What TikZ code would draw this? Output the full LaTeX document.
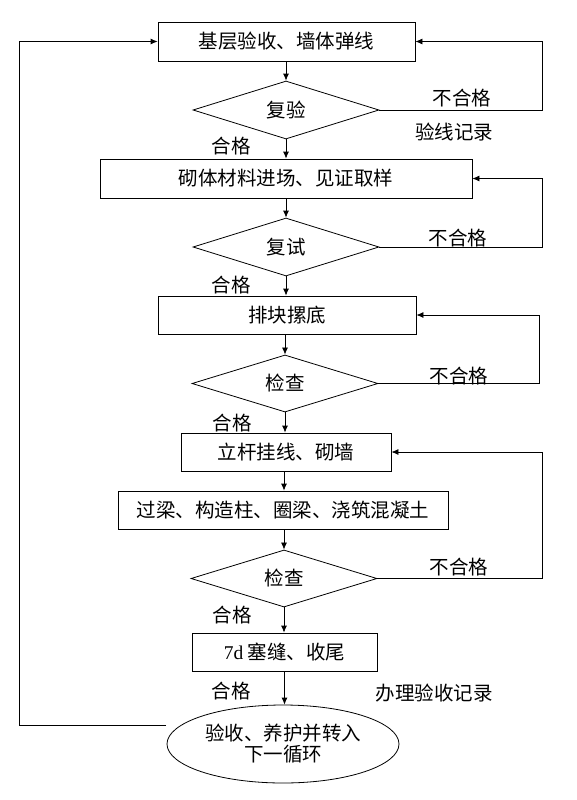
\documentclass[tikz,border=0pt]{standalone}
\usepackage{fontspec}
\setmainfont{Liberation Serif}
\newfontfamily\cjk{Noto Sans CJK SC}
\usetikzlibrary{shapes.geometric,arrows.meta}

\tikzset{
  stepbox/.style={draw, rectangle, minimum height=39pt, inner sep=0pt},
  check/.style={draw, diamond, minimum width=186pt, minimum height=58pt, inner sep=0pt},
  lbl/.style={inner sep=0pt},
  arr/.style={-{Latex[length=7pt,width=6pt]}},
}

\begin{document}
\begin{tikzpicture}[x=1pt, y=-1pt, line width=0.8pt, font=\cjk\fontsize{19.5}{21}\selectfont]
    \useasboundingbox (0,0) rectangle (577,800);

    % 工序框与判定框
    \node[stepbox, minimum width=257pt] (base) at (286.5,41.5) {基层验收、墙体弹线};
    \node[check] (chk1) at (286,110) {复验};
    \node[stepbox, minimum width=372pt] (mat) at (286,178.5) {砌体材料进场、见证取样};
    \node[check] (chk2) at (286,247) {复试};
    \node[stepbox, minimum width=258pt, minimum height=38pt] (lay) at (287,315) {排块摞底};
    \node[check, minimum height=57pt] (chk3) at (285,383.5) {检查};
    \node[stepbox, minimum width=210pt, minimum height=38pt] (wall) at (286,452) {立杆挂线、砌墙};
    \node[stepbox, minimum width=330pt, minimum height=38pt] (beam) at (283,510) {过梁、构造柱、圈梁、浇筑混凝土};
    \node[check, minimum height=57pt] (chk4) at (284,578.5) {检查};
    \node[stepbox, minimum width=185pt, minimum height=38pt] (seal) at (284.5,652) {{\rmfamily 7d} 塞缝、收尾};
    \node[draw, ellipse, minimum width=232pt, minimum height=78pt, inner sep=0pt, align=center] (cyc) at (283,744) {验收、养护并转入\\下一循环};

    % 主流程箭头
    \draw[arr] (base.south -| chk1.north) -- (chk1.north);
    \draw[arr] (chk1.south) -- (chk1.south |- mat.north);
    \draw[arr] (mat.south -| chk2.north) -- (chk2.north);
    \draw[arr] (chk2.south) -- (chk2.south |- lay.north);
    \draw[arr] (lay.south -| chk3.north) -- (chk3.north);
    \draw[arr] (chk3.south) -- (chk3.south |- wall.north);
    \draw[arr] (wall.south -| chk4.north) -- (chk4.north |- beam.north);
    \draw[arr] (beam.south -| chk4.north) -- (chk4.north);
    \draw[arr] (chk4.south) -- (chk4.south |- seal.north);
    \draw[arr] (seal.south) -- (seal.south |- cyc.north);

    % 不合格返回
    \draw[arr] (chk1.east) -- ++(163,0) |- (base.east);
    \draw[arr] (chk2.east) -- ++(163,0) |- (mat.east);
    \draw[arr] (chk3.east) -- ++(161,0) |- (lay.east);
    \draw[arr] (chk4.east) -- ++(165,0) |- (wall.east);

    % 转入下一循环
    \coordinate (ret) at (166,725);
    \draw[arr] (ret) -- ++(-147,0) |- (base.west);

    % 标注
    \node[lbl] (ng1) at (462,98) {不合格};
    \node[lbl] (rec1) at (454,132) {验线记录};
    \node[lbl] (ok1) at (231,146) {合格};
    \node[lbl] (ng2) at (458,238) {不合格};
    \node[lbl] (ok2) at (231,285) {合格};
    \node[lbl] (ng3) at (459,376) {不合格};
    \node[lbl] (ok3) at (232,423) {合格};
    \node[lbl] (ng4) at (459,567) {不合格};
    \node[lbl] (ok4) at (232,615) {合格};
    \node[lbl] (ok5) at (231,691) {合格};
    \node[lbl] (rec2) at (434,693) {办理验收记录};
\end{tikzpicture}
\end{document}
